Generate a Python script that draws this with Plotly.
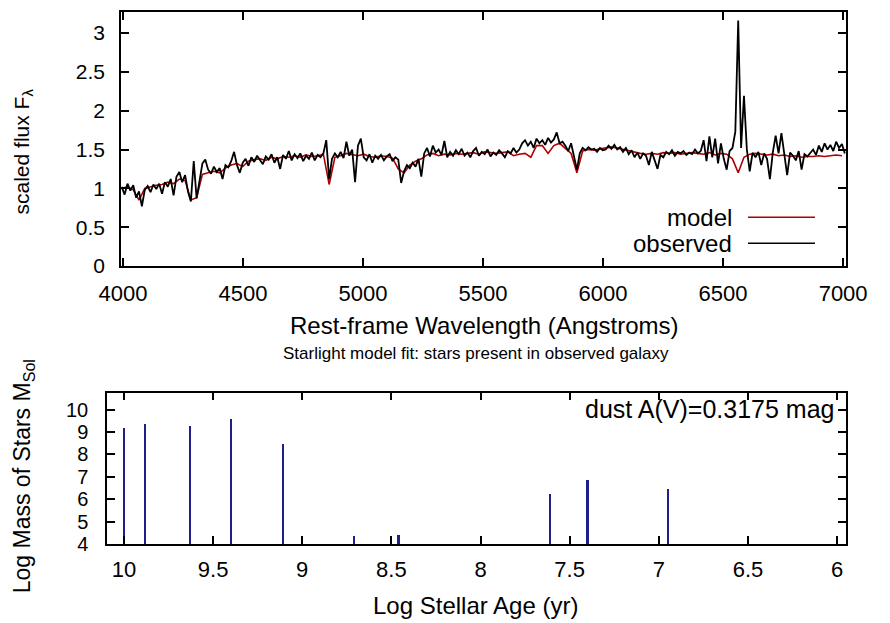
import plotly.graph_objects as go

# spectrum sampling (Angstroms): start + step*i
obs_start, obs_step = 3995, 12
model_start, model_step = 3995, 24

observed_flux = [
    1.02, 0.92, 1.06, 0.97, 1.04, 0.88, 0.96, 0.77, 0.98, 1.03,
    0.95, 1.05, 0.99, 1.06, 0.93, 1.08, 1.02, 1.12, 0.91, 1.15,
    1.21, 1.08, 1.17, 0.96, 0.83, 1.35, 0.87, 1.12, 1.32, 1.37,
    1.24, 1.19, 1.28, 1.21, 1.26, 1.12, 1.30, 1.27, 1.35, 1.47,
    1.30, 1.20, 1.33, 1.38, 1.29, 1.40, 1.34, 1.42, 1.36, 1.31,
    1.41, 1.37, 1.44, 1.33, 1.40, 1.25, 1.43, 1.38, 1.48, 1.36,
    1.44, 1.39, 1.45, 1.35, 1.42, 1.38, 1.46, 1.36, 1.43, 1.40,
    1.45, 1.62, 1.12, 1.38, 1.45, 1.40, 1.47, 1.39, 1.60, 1.42,
    1.50, 1.08, 1.55, 1.64, 1.40, 1.36, 1.44, 1.33, 1.42, 1.38,
    1.43, 1.36, 1.41, 1.44, 1.35, 1.40, 1.37, 1.07, 1.22, 1.30,
    1.26, 1.33, 1.28, 1.38, 1.15, 1.45, 1.52, 1.41, 1.55, 1.46,
    1.50, 1.43, 1.61, 1.40, 1.47, 1.42, 1.49, 1.44, 1.51, 1.42,
    1.46, 1.40, 1.48, 1.52, 1.42, 1.47, 1.44, 1.50, 1.41, 1.46,
    1.43, 1.49, 1.45, 1.40, 1.48, 1.45, 1.52, 1.46, 1.50, 1.58,
    1.62, 1.55, 1.60, 1.52, 1.64, 1.58, 1.62, 1.56, 1.65, 1.59,
    1.63, 1.72, 1.58, 1.60, 1.55, 1.48, 1.58, 1.40, 1.24, 1.45,
    1.52, 1.49, 1.53, 1.50, 1.51, 1.47, 1.52, 1.49, 1.50, 1.55,
    1.51, 1.56, 1.50, 1.53, 1.47, 1.52, 1.44, 1.49, 1.40, 1.46,
    1.38, 1.45, 1.42, 1.30, 1.47, 1.36, 1.25, 1.43, 1.40, 1.47,
    1.44, 1.49, 1.42, 1.47, 1.45, 1.48, 1.43, 1.46, 1.44, 1.50,
    1.45, 1.48, 1.62, 1.35, 1.67, 1.40, 1.64, 1.32, 1.58, 1.38,
    1.24, 1.48, 1.52, 1.73, 3.16, 1.52, 2.19, 1.50, 1.22, 1.46,
    1.40, 1.47, 1.30, 1.45, 1.38, 1.12, 1.46, 1.68, 1.45, 1.71,
    1.40, 1.17, 1.46, 1.42, 1.36, 1.48, 1.24, 1.44, 1.41, 1.46,
    1.50, 1.43, 1.55, 1.47, 1.58, 1.50, 1.56, 1.48, 1.60, 1.52,
    1.57, 1.45,
]

model_flux = [
    1.00, 1.02, 0.98, 0.85, 1.00, 1.02, 1.04, 1.05, 1.08, 1.06,
    1.12, 1.10, 0.85, 0.88, 1.18, 1.20, 1.22, 1.20, 1.26, 1.30,
    1.32, 1.28, 1.35, 1.37, 1.38, 1.36, 1.40, 1.38, 1.41, 1.40,
    1.42, 1.40, 1.43, 1.41, 1.42, 1.44, 1.05, 1.40, 1.42, 1.45,
    1.43, 1.42, 1.44, 1.41, 1.40, 1.42, 1.41, 1.39, 1.25, 1.20,
    1.30, 1.35, 1.38, 1.43, 1.45, 1.42, 1.44, 1.43, 1.45, 1.44,
    1.45, 1.46, 1.44, 1.47, 1.46, 1.45, 1.46, 1.47, 1.42, 1.44,
    1.45, 1.40, 1.55, 1.55, 1.45, 1.55, 1.58, 1.52, 1.45, 1.20,
    1.48, 1.50, 1.49, 1.51, 1.52, 1.53, 1.52, 1.50, 1.48, 1.47,
    1.45, 1.44, 1.45, 1.44, 1.46, 1.45, 1.46, 1.44, 1.45, 1.46,
    1.45, 1.44, 1.46, 1.43, 1.45, 1.44, 1.38, 1.20, 1.40, 1.44,
    1.45, 1.44, 1.43, 1.44, 1.42, 1.43, 1.41, 1.42, 1.40, 1.41,
    1.41, 1.42, 1.41, 1.42, 1.43, 1.42,
]

# starlight population fit
log_age = [10.0, 9.88, 9.63, 9.40, 9.11, 8.71, 8.46, 7.61, 7.40, 6.95]
log_mass = [9.21, 9.36, 9.29, 9.59, 8.47, 4.36, 4.43, 6.25, 6.88, 6.49]
dust_av = 0.3175

FONT = "Liberation Sans, Arial, sans-serif"

# page pixel -> paper fraction (plot area on the page spans x 107..846, y 10..544)
def px(x):
    return (x - 107) / 739

def py(y):
    return (544 - y) / 534

fig = go.Figure()

fig.add_trace(go.Scatter(x0=model_start, dx=model_step, y=model_flux, mode="lines",
                         line=dict(color="#b00000", width=1.6), name="model",
                         xaxis="x", yaxis="y"))
fig.add_trace(go.Scatter(x0=obs_start, dx=obs_step, y=observed_flux, mode="lines",
                         line=dict(color="black", width=1.8), name="observed",
                         xaxis="x", yaxis="y"))
fig.add_trace(go.Bar(x=log_age, y=log_mass, width=0.012, marker_color="#1f1f8c",
                     marker_line_width=0, xaxis="x2", yaxis="y2"))

def axis_style(size):
    return dict(showline=True, linecolor="black", linewidth=1.5, mirror="allticks",
                ticks="inside", ticklen=8, tickwidth=1.5, tickcolor="black",
                showgrid=False, zeroline=False, tickfont=dict(size=size, color="black"))

# the page body adds 8px around the figure, so margins are shifted by 8
fig.update_layout(
    width=890, height=623,
    margin=dict(l=99, r=52, t=2, b=87),
    paper_bgcolor="white", plot_bgcolor="white",
    font=dict(family=FONT, size=24, color="black"),
    showlegend=False,
    bargap=0,
    xaxis=dict(domain=[px(121), 1], range=[3992, 7012], dtick=500, tick0=4500,
               anchor="y", ticklabelstandoff=7, **axis_style(22)),
    yaxis=dict(domain=[py(265), 1], range=[0, 3.27], dtick=0.5, anchor="x",
               ticklabelstandoff=10, **axis_style(21)),
    xaxis2=dict(domain=[0, 1], range=[10.095, 5.95], dtick=0.5, anchor="y2",
                ticklabelstandoff=5, **axis_style(22)),
    yaxis2=dict(domain=[0, py(392)], range=[4, 10.76], dtick=1, anchor="x2",
                ticklabelstandoff=13, **axis_style(20)),
)

annots = [
    dict(text="Rest-frame Wavelength (Angstroms)", x=px(484), y=py(325), font=dict(size=24)),
    dict(text="Starlight model fit: stars present in observed galaxy", x=px(476), y=py(353),
         font=dict(size=17)),
    dict(text="Log Stellar Age (yr)", x=px(475), y=py(606), font=dict(size=24)),
    dict(text="scaled flux F<sub>λ</sub>", x=px(23), y=py(150), textangle=-90,
         font=dict(size=21)),
    dict(text="Log Mass of Stars M<sub>Sol</sub>", x=px(23), y=py(476), textangle=-90,
         font=dict(size=23)),
]
for a in annots:
    fig.add_annotation(xref="paper", yref="paper", showarrow=False,
                       xanchor="center", yanchor="middle", **a)

fig.add_annotation(text=f"dust A(V)={dust_av} mag", xref="paper", yref="paper",
                   x=px(836), y=py(408), xanchor="right", yanchor="middle", showarrow=False,
                   font=dict(size=25))

# legend: label on the left, sample line on the right (gnuplot style)
for name, color, ypix in [("model", "#b00000", 216), ("observed", "black", 242)]:
    fig.add_annotation(text=name, xref="paper", yref="paper", x=px(734), y=py(ypix),
                       xanchor="right", yanchor="middle", showarrow=False,
                       font=dict(size=24))
    fig.add_shape(type="line", xref="paper", yref="paper", x0=px(748), x1=px(815),
                  y0=py(ypix), y1=py(ypix), line=dict(color=color, width=1.5))

fig.write_html("out.html")
